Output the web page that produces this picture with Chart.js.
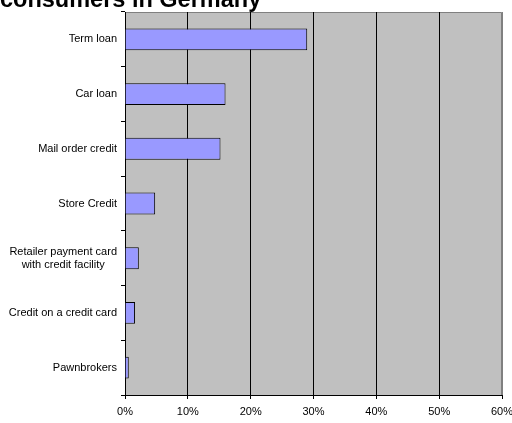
<!DOCTYPE html>
<html>
<head>
<meta charset="utf-8">
<script src="https://cdn.jsdelivr.net/npm/chart.js@4/dist/chart.umd.min.js"></script>
<style>
  html, body { margin: 0; padding: 0; background: #ffffff; overflow: hidden; width: 512px; height: 423px; }
  #wrap { position: absolute; left: 0; top: -20px; width: 512px; height: 443px; }
</style>
</head>
<body>
<div id="wrap"><canvas id="c" width="512" height="443"></canvas></div>
<script>
const titleText = 'consumers in Germany';
const categories = [
  'Term loan',
  'Car loan',
  'Mail order credit',
  'Store Credit',
  ['Retailer payment card', 'with credit facility'],
  'Credit on a credit card',
  'Pawnbrokers'
];
const shares = [29, 16, 15.2, 4.8, 2.2, 1.6, 0.6];
const xMin = 0, xMax = 60, xStep = 10;

const FONT = 'Arial, "Liberation Sans", sans-serif';

const plotBg = {
  id: 'plotBg',
  beforeDraw(chart) {
    const a = chart.chartArea, ctx = chart.ctx;
    ctx.save();
    ctx.fillStyle = '#c0c0c0';
    ctx.fillRect(a.left, a.top, a.right - a.left, a.bottom - a.top);
    ctx.strokeStyle = '#808080';
    ctx.lineWidth = 1;
    ctx.beginPath();
    ctx.moveTo(Math.round(a.left) + 0.5, Math.round(a.top) + 0.5);
    ctx.lineTo(Math.round(a.right) - 0.5, Math.round(a.top) + 0.5);
    ctx.lineTo(Math.round(a.right) - 0.5, Math.round(a.bottom));
    ctx.stroke();
    ctx.restore();
  }
};

new Chart(document.getElementById('c'), {
  type: 'bar',
  data: {
    labels: categories,
    datasets: [{
      data: shares,
      backgroundColor: '#9999ff',
      borderColor: '#000000',
      borderWidth: 1,
      barPercentage: 0.4,
      categoryPercentage: 1
    }]
  },
  options: {
    indexAxis: 'y',
    responsive: false,
    animation: false,
    layout: { padding: { left: 0, right: 10, top: 0, bottom: 0 } },
    plugins: {
      legend: { display: false },
      tooltip: { enabled: false },
      title: {
        display: true,
        text: titleText,
        align: 'start',
        color: '#000000',
        font: { family: FONT, size: 23.5, weight: 'bold', lineHeight: 1 },
        padding: { top: 8.5, bottom: 0 }
      }
    },
    scales: {
      x: {
        min: xMin,
        max: xMax,
        ticks: {
          stepSize: xStep,
          color: '#000000',
          font: { family: FONT, size: 11 },
          padding: 6,
          maxRotation: 0,
          callback: v => v + '%'
        },
        grid: {
          color: ctx => (ctx.index === 6 ? '#808080' : '#000000'),
          tickColor: '#000000',
          lineWidth: 1,
          tickLength: 4
        },
        border: { color: '#000000', width: 1 },
        afterFit: s => { s.height = 28; s.paddingRight = 0; s.paddingLeft = 0; }
      },
      y: {
        ticks: {
          color: '#000000',
          font: { family: FONT, size: 11, lineHeight: 1.2 },
          padding: 4,
          callback: function (v, i) {
            const l = categories[i];
            return Array.isArray(l) ? [l[0], l[1] + '    '] : l;
          }
        },
        grid: {
          offset: true,
          drawOnChartArea: false,
          drawTicks: true,
          tickLength: 4,
          color: '#000000'
        },
        border: { color: '#000000', width: 1 },
        afterFit: s => { s.width = 125; }
      }
    }
  },
  plugins: [plotBg]
});
</script>
</body>
</html>
